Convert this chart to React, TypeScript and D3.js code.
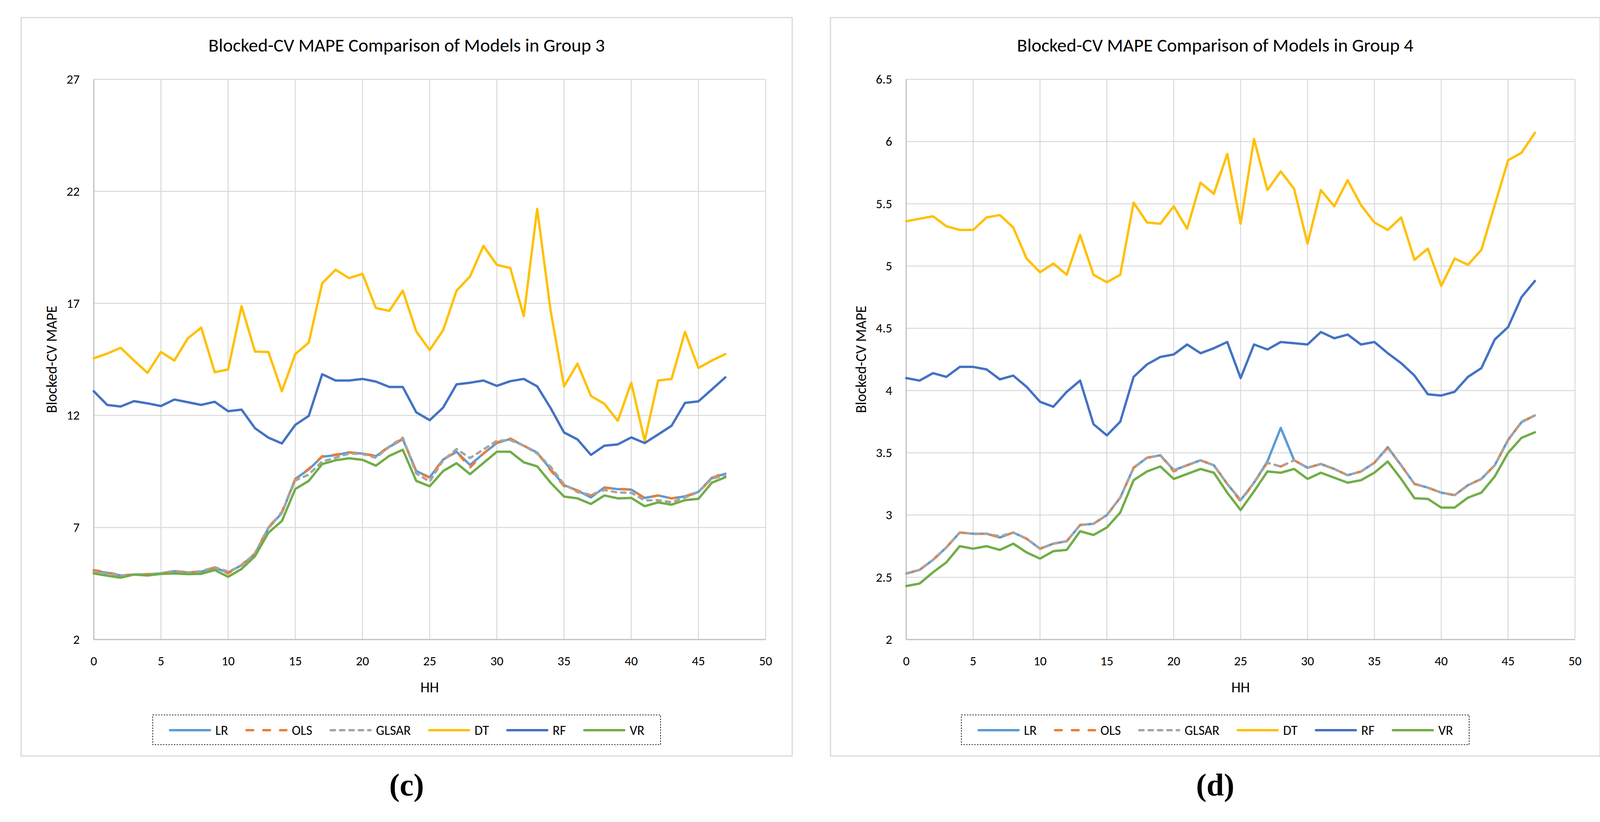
import React from 'react';
import * as d3 from 'd3';

// half-hour index on the x axis
const HH = [0, 1, 2, 3, 4, 5, 6, 7, 8, 9, 10, 11, 12, 13, 14, 15, 16, 17, 18, 19, 20, 21, 22, 23,
  24, 25, 26, 27, 28, 29, 30, 31, 32, 33, 34, 35, 36, 37, 38, 39, 40, 41, 42, 43, 44, 45, 46, 47];

const SERIES = ['LR', 'OLS', 'GLSAR', 'DT', 'RF', 'VR'];

// ---- Group 3 ----
const G3_LR = [5.06, 4.98, 4.86, 4.9, 4.91, 4.95, 5.05, 5.0, 5.03, 5.2, 4.99, 5.32, 5.82, 6.98, 7.65, 9.17,
  9.59, 10.16, 10.23, 10.35, 10.3, 10.18, 10.6, 10.94, 9.52, 9.24, 10.03, 10.38, 9.79, 10.3, 10.77, 10.95,
  10.65, 10.34, 9.6, 8.89, 8.65, 8.34, 8.79, 8.71, 8.69, 8.32, 8.43, 8.3, 8.39, 8.59, 9.22, 9.4];
const G3_OLS = [5.1, 5.0, 4.87, 4.9, 4.92, 4.95, 5.06, 5.0, 5.04, 5.22, 4.95, 5.33, 5.85, 7.0, 7.7, 9.15,
  9.62, 10.18, 10.25, 10.35, 10.3, 10.2, 10.62, 10.96, 9.5, 9.22, 10.05, 10.38, 9.67, 10.3, 10.8, 10.97,
  10.65, 10.34, 9.55, 8.85, 8.65, 8.42, 8.77, 8.73, 8.69, 8.32, 8.43, 8.3, 8.37, 8.58, 9.18, 9.5];
const G3_GLSAR = [5.02, 4.95, 4.85, 4.9, 4.9, 4.95, 5.07, 4.99, 5.05, 5.23, 5.03, 5.3, 5.85, 7.0, 7.68, 9.1,
  9.36, 9.95, 10.11, 10.3, 10.28, 10.11, 10.62, 11.01, 9.41, 9.05, 10.0, 10.5, 10.1, 10.48, 10.87, 10.9,
  10.65, 10.3, 9.71, 8.93, 8.58, 8.46, 8.67, 8.56, 8.55, 8.21, 8.22, 8.13, 8.34, 8.58, 9.18, 9.32];
const G3_DT = [14.55, 14.76, 15.02, 14.45, 13.9, 14.83, 14.45, 15.44, 15.92, 13.93, 14.05, 16.88, 14.85,
  14.83, 13.08, 14.74, 15.25, 17.9, 18.5, 18.13, 18.32, 16.79, 16.67, 17.57, 15.75, 14.92, 15.8, 17.57, 18.2,
  19.57, 18.72, 18.58, 16.43, 21.22, 16.67, 13.3, 14.31, 12.87, 12.52, 11.76, 13.46, 10.87, 13.56, 13.63,
  15.73, 14.12, 14.45, 14.74];
const G3_RF = [13.08, 12.47, 12.4, 12.64, 12.54, 12.42, 12.71, 12.59, 12.47, 12.61, 12.19, 12.26, 11.43,
  11.01, 10.75, 11.58, 11.98, 13.84, 13.56, 13.56, 13.63, 13.51, 13.27, 13.27, 12.14, 11.79, 12.35, 13.39,
  13.46, 13.56, 13.32, 13.53, 13.63, 13.3, 12.33, 11.24, 10.93, 10.24, 10.65, 10.71, 11.02, 10.77, 11.15,
  11.54, 12.56, 12.63, 13.16, 13.7];
const G3_VR = [4.95, 4.85, 4.76, 4.9, 4.86, 4.93, 4.95, 4.92, 4.93, 5.1, 4.8, 5.15, 5.72, 6.77, 7.29, 8.72,
  9.08, 9.83, 10.0, 10.09, 10.02, 9.76, 10.2, 10.47, 9.08, 8.84, 9.52, 9.87, 9.38, 9.88, 10.38, 10.38, 9.91,
  9.73, 9.0, 8.38, 8.3, 8.05, 8.43, 8.3, 8.32, 7.95, 8.12, 8.02, 8.22, 8.28, 9.0, 9.24];

// ---- Group 4 ----
const G4_LR = [2.53, 2.56, 2.64, 2.74, 2.86, 2.85, 2.85, 2.82, 2.86, 2.81, 2.73, 2.77, 2.79, 2.92, 2.93,
  3.0, 3.14, 3.38, 3.46, 3.48, 3.36, 3.4, 3.44, 3.4, 3.25, 3.12, 3.26, 3.43, 3.7, 3.44, 3.38, 3.41, 3.37,
  3.32, 3.35, 3.42, 3.545, 3.4, 3.25, 3.22, 3.18, 3.16, 3.24, 3.29, 3.4, 3.605, 3.745, 3.8];
const G4_OLS = [2.53, 2.56, 2.64, 2.74, 2.86, 2.85, 2.85, 2.82, 2.86, 2.81, 2.73, 2.77, 2.79, 2.92, 2.93,
  3.0, 3.14, 3.38, 3.46, 3.48, 3.35, 3.4, 3.44, 3.4, 3.25, 3.11, 3.26, 3.42, 3.39, 3.44, 3.38, 3.41, 3.37,
  3.32, 3.35, 3.42, 3.54, 3.4, 3.25, 3.22, 3.18, 3.16, 3.24, 3.29, 3.4, 3.6, 3.75, 3.8];
const G4_GLSAR = [2.53, 2.56, 2.64, 2.74, 2.86, 2.85, 2.85, 2.83, 2.86, 2.81, 2.73, 2.77, 2.79, 2.92, 2.93,
  3.0, 3.14, 3.38, 3.46, 3.48, 3.36, 3.4, 3.44, 3.4, 3.25, 3.12, 3.26, 3.42, 3.39, 3.44, 3.38, 3.41, 3.37,
  3.32, 3.35, 3.42, 3.54, 3.4, 3.25, 3.22, 3.18, 3.16, 3.24, 3.29, 3.4, 3.6, 3.75, 3.8];
const G4_DT = [5.36, 5.38, 5.4, 5.32, 5.29, 5.29, 5.39, 5.41, 5.31, 5.06, 4.95, 5.02, 4.93, 5.25, 4.93, 4.87,
  4.93, 5.51, 5.35, 5.34, 5.48, 5.3, 5.67, 5.58, 5.9, 5.34, 6.02, 5.61, 5.76, 5.62, 5.18, 5.61, 5.48, 5.69,
  5.49, 5.35, 5.29, 5.39, 5.05, 5.14, 4.84, 5.06, 5.01, 5.13, 5.49, 5.85, 5.91, 6.07];
const G4_RF = [4.1, 4.08, 4.14, 4.11, 4.19, 4.19, 4.17, 4.09, 4.12, 4.03, 3.91, 3.87, 3.99, 4.08, 3.73, 3.64,
  3.75, 4.11, 4.21, 4.27, 4.29, 4.37, 4.3, 4.34, 4.39, 4.1, 4.37, 4.33, 4.39, 4.38, 4.37, 4.47, 4.42, 4.45,
  4.37, 4.39, 4.3, 4.22, 4.12, 3.97, 3.96, 3.99, 4.11, 4.18, 4.41, 4.51, 4.75, 4.88];
const G4_VR = [2.43, 2.45, 2.54, 2.62, 2.75, 2.73, 2.75, 2.72, 2.77, 2.7, 2.65, 2.71, 2.72, 2.87, 2.84, 2.9,
  3.02, 3.28, 3.35, 3.39, 3.29, 3.33, 3.37, 3.34, 3.18, 3.04, 3.19, 3.35, 3.34, 3.37, 3.29, 3.34, 3.3, 3.26,
  3.28, 3.34, 3.43, 3.29, 3.135, 3.13, 3.06, 3.06, 3.14, 3.18, 3.31, 3.5, 3.62, 3.665];

const X_TICKS = [0, 5, 10, 15, 20, 25, 30, 35, 40, 45, 50];
const G3_Y_TICKS = [2, 7, 12, 17, 22, 27];
const G4_Y_TICKS = [2, 2.5, 3, 3.5, 4, 4.5, 5, 5.5, 6, 6.5];

const STYLE: Record<string, { color: string; dash?: string }> = {
  LR: { color: '#5B9BD5' },
  OLS: { color: '#ED7D31', dash: '17 26' },
  GLSAR: { color: '#A5A5A5', dash: '11 13' },
  DT: { color: '#FFC000' },
  RF: { color: '#4472C4' },
  VR: { color: '#70AD47' },
};

const FONT = "Carlito, Lato, 'Open Sans', sans-serif";
const LINE_W = 6;

let ctx: CanvasRenderingContext2D | null = null;
function textWidth(s: string, size: number) {
  if (!ctx) ctx = document.createElement('canvas').getContext('2d');
  if (!ctx) return s.length * size * 0.55;
  ctx.font = `${size}px ${FONT}`;
  return ctx.measureText(s).width;
}

interface PanelProps {
  left: number;
  width: number;
  plotLeft: number;
  title: string;
  caption: string;
  yTicks: number[];
  values: number[][];
}

const Panel: React.FC<PanelProps> = ({ left, width, plotLeft, title, caption, yTicks, values }) => {
  const top = 45, bottom = 1935;
  const px0 = left + plotLeft, px1 = left + 1906;
  const py0 = 203, py1 = 1637;
  const cx = left + width / 2;
  const x = d3.scaleLinear().domain([0, 50]).range([px0, px1]);
  const y = d3.scaleLinear().domain([yTicks[0], yTicks[yTicks.length - 1]]).range([py1, py0]);
  const line = d3.line<number>().x((_, i) => x(HH[i])).y(d => y(d));

  // legend layout
  const legSize = 34, lineLen = 108, gapLT = 11, gapItem = 44;
  const widths = SERIES.map(s => textWidth(s, legSize));
  const total = widths.reduce((a, w) => a + lineLen + gapLT + w, 0) + gapItem * (SERIES.length - 1);
  let cur = cx - total / 2;
  const legItems = SERIES.map((s, i) => {
    const item = { s, x: cur, w: widths[i] };
    cur += lineLen + gapLT + widths[i] + gapItem;
    return item;
  });
  const legY = 1869;

  return (
    <g>
      <rect x={left} y={top} width={width} height={bottom - top} fill="#fff" stroke="#D9D9D9" strokeWidth={3} />
      <text x={cx} y={115} fontFamily={FONT} fontSize={48} textAnchor="middle" dominantBaseline="central" fill="#000">{title}</text>
      {yTicks.slice(1).map(t => (
        <line key={'h' + t} x1={px0} x2={px1} y1={y(t)} y2={y(t)} stroke="#D9D9D9" strokeWidth={2.5} />
      ))}
      {X_TICKS.slice(1).map(t => (
        <line key={'v' + t} x1={x(t)} x2={x(t)} y1={py0} y2={py1} stroke="#D9D9D9" strokeWidth={2.5} />
      ))}
      <line x1={px0} x2={px0} y1={py0} y2={py1} stroke="#BFBFBF" strokeWidth={3} />
      <line x1={px0} x2={px1} y1={py1} y2={py1} stroke="#BFBFBF" strokeWidth={3} />
      {yTicks.map(t => (
        <text key={'yl' + t} x={px0 - 36} y={y(t)} fontFamily={FONT} fontSize={33} textAnchor="end" dominantBaseline="central" fill="#000">{String(t)}</text>
      ))}
      {X_TICKS.map(t => (
        <text key={'xl' + t} x={x(t)} y={1692} fontFamily={FONT} fontSize={33} textAnchor="middle" dominantBaseline="central" fill="#000">{String(t)}</text>
      ))}
      <text x={(px0 + px1) / 2} y={1759} fontFamily={FONT} fontSize={38} textAnchor="middle" dominantBaseline="central" fill="#000">HH</text>
      <text transform={`translate(${left + 78},${(py0 + py1) / 2}) rotate(-90)`} fontFamily={FONT} fontSize={38} textAnchor="middle" dominantBaseline="central" fill="#000">Blocked-CV MAPE</text>
      {SERIES.map((s, i) => (
        <path key={s} d={line(values[i]) || ''} fill="none" stroke={STYLE[s].color} strokeWidth={LINE_W}
          strokeDasharray={STYLE[s].dash} strokeLinejoin="round" strokeLinecap="round" />
      ))}
      <rect x={cx - 650} y={1830} width={1300} height={76} fill="none" stroke="#000" strokeWidth={1.6} strokeDasharray="4 3" />
      {legItems.map(it => (
        <g key={'lg' + it.s}>
          <line x1={it.x + 3} x2={it.x + lineLen - 3} y1={legY} y2={legY} stroke={STYLE[it.s].color} strokeWidth={LINE_W}
            strokeDasharray={STYLE[it.s].dash} strokeLinecap="round" />
          <text x={it.x + lineLen + gapLT} y={legY} fontFamily={FONT} fontSize={legSize} dominantBaseline="central" fill="#000">{it.s}</text>
        </g>
      ))}
      <text x={cx} y={2036} fontFamily="'Liberation Serif', 'DejaVu Serif', serif" fontWeight="bold" fontSize={80} textAnchor="middle" fill="#000">{caption}</text>
    </g>
  );
};

export default function App() {
  return (
    <svg width={4146} height={2104} viewBox="0 0 4146 2104" style={{ position: 'absolute', left: 0, top: 0, background: '#fff' }}>
      <rect x={0} y={0} width={4146} height={2104} fill="#fff" />
      <Panel left={54} width={1974} plotLeft={186} title="Blocked-CV MAPE Comparison of Models in Group 3" caption="(c)"
        yTicks={G3_Y_TICKS} values={[G3_LR, G3_OLS, G3_GLSAR, G3_DT, G3_RF, G3_VR]} />
      <Panel left={2126} width={1970} plotLeft={194} title="Blocked-CV MAPE Comparison of Models in Group 4" caption="(d)"
        yTicks={G4_Y_TICKS} values={[G4_LR, G4_OLS, G4_GLSAR, G4_DT, G4_RF, G4_VR]} />
    </svg>
  );
}
